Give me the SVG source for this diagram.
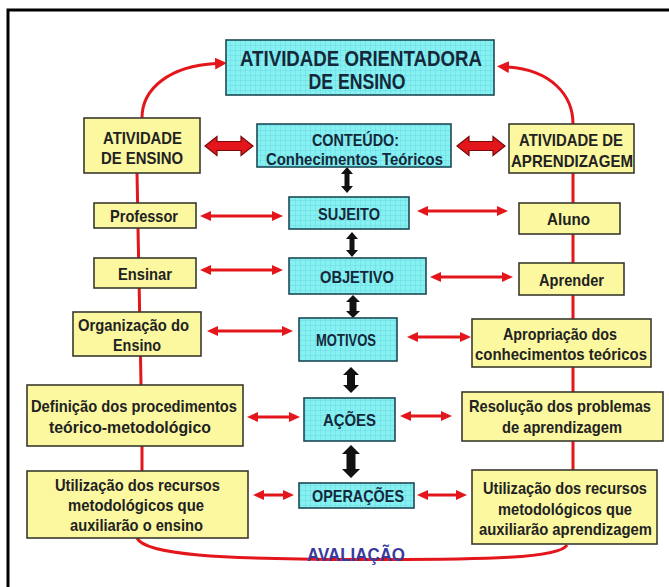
<svg xmlns="http://www.w3.org/2000/svg" width="669" height="587" viewBox="0 0 669 587">
  <defs>
    <!-- fine grid used inside the cyan boxes -->
    <pattern id="grid" width="5" height="5" patternUnits="userSpaceOnUse">
      <rect width="5" height="5" fill="#86f1f1"/>
      <path d="M5,0 L0,0 0,5" fill="none" stroke="#5cc6dc" stroke-width="0.6"/>
    </pattern>
    <marker id="head" viewBox="0 0 11 10" refX="1" refY="5" markerWidth="11" markerHeight="10" markerUnits="userSpaceOnUse" orient="auto-start-reverse">
      <path d="M0,0 L11,5 L0,10 z" fill="#e3161c"/>
    </marker>
    <marker id="headBig" viewBox="0 0 12 12" refX="1" refY="6" markerWidth="12" markerHeight="12" markerUnits="userSpaceOnUse" orient="auto">
      <path d="M0,0 L12,6 L0,12 z" fill="#e3161c"/>
    </marker>
  </defs>
  <style>
    .frame { fill: none; stroke: #000; stroke-width: 3; }
    .yel { fill: #fbf8a0; stroke: #3a3a2e; stroke-width: 1.6; }
    .cya { fill: url(#grid); stroke: #1d4a55; stroke-width: 1.6; }
    text { font-family: "Liberation Sans", Arial, sans-serif; font-weight: bold; text-anchor: middle; }
    .t { font-size: 17px; fill: #222; }
    .c { font-size: 16.5px; fill: #14283a; }
    .title { font-size: 22px; fill: #14283a; }
    .eval { font-size: 19px; fill: #3a3a9e; }
    .red { fill: none; stroke: #e3161c; stroke-width: 3; }
    .thin { fill: none; stroke: #e3161c; stroke-width: 3; marker-start: url(#head); marker-end: url(#head); }
    .blk { fill: #111; }
    .block { fill: #e3161c; stroke: #7a0a0a; stroke-width: 1.2; }
  </style>

  <!-- outer frame (left and top edges) -->
  <path class="frame" d="M8,587 L8,10 L669,10"/>

  <!-- connectors -->
  <g id="connectors">
    <!-- left spine, segments between boxes -->
    <path class="red" d="M137,173 L137.6,203"/>
    <path class="red" d="M138,228 L138.6,258"/>
    <path class="red" d="M139.2,288 L139.6,312"/>
    <path class="red" d="M140.5,356 L141,385"/>
    <path class="red" d="M142,446 L142,471"/>
    <!-- right spine, segments between boxes -->
    <path class="red" d="M573,173 L573,203"/>
    <path class="red" d="M573,234 L573,263"/>
    <path class="red" d="M573,295 L573,319"/>
    <path class="red" d="M573,367 L573,392"/>
    <path class="red" d="M573,441 L573,470"/>
    <!-- curves up to the title -->
    <path class="red" d="M142,118 C142,88 170,66 216,63.5" marker-end="url(#headBig)"/>
    <path class="red" d="M573,124 C573,95 551,70 508,67" marker-end="url(#headBig)"/>
    <!-- evaluation curve -->
    <path class="red" d="M137,538 C145,555 220,559 355,559.5 C490,560 560,558 567,545"/>
    <!-- small mark on the left spine -->
    <path d="M134,386 L134,393 Q133.5,396 131,395" fill="none" stroke="#111" stroke-width="1.2"/>

    <!-- fat block arrows next to the content box -->
    <polygon class="block" points="205,146 217,136.5 217,141.5 241,141.5 241,136.5 253,146 241,155.5 241,150.5 217,150.5 217,155.5"/>
    <polygon class="block" points="457,146 469,136.5 469,141.5 493,141.5 493,136.5 505,146 493,155.5 493,150.5 469,150.5 469,155.5"/>

    <!-- thin red double arrows -->
    <line class="thin" x1="210" y1="216" x2="273" y2="216"/>
    <line class="thin" x1="427" y1="211" x2="498" y2="211"/>
    <line class="thin" x1="210" y1="270" x2="273" y2="270"/>
    <line class="thin" x1="440" y1="277" x2="503" y2="277"/>
    <line class="thin" x1="217" y1="331" x2="283" y2="331"/>
    <line class="thin" x1="417" y1="337" x2="461" y2="337"/>
    <line class="thin" x1="257" y1="417" x2="290" y2="417"/>
    <line class="thin" x1="410" y1="416" x2="442" y2="416"/>
    <line class="thin" x1="263" y1="495" x2="284" y2="495"/>
    <line class="thin" x1="427" y1="495" x2="457" y2="495"/>

    <!-- black vertical double arrows along the centre column -->
    <polygon class="blk" points="347,167 353,174 349.5,174 349.5,186 353,186 347,193 341,186 344.5,186 344.5,174 341,174"/>
    <polygon class="blk" points="352,232 358,239 354.5,239 354.5,250 358,250 352,257 346,250 349.5,250 349.5,239 346,239"/>
    <polygon class="blk" points="353,295 360,302 356.5,302 356.5,311 360,311 353,318 346,311 349.5,311 349.5,302 346,302"/>
    <polygon class="blk" points="351,367 359,375 355,375 355,385 359,385 351,393 343,385 347,385 347,375 343,375"/>
    <polygon class="blk" points="351,445 360,454 355.5,454 355.5,469 360,469 351,478 342,469 346.5,469 346.5,454 342,454"/>
  </g>

  <!-- title -->
  <g id="atividade-orientadora">
    <rect class="cya" x="226" y="40" width="268" height="55"/>
    <text class="title" x="361" y="65.5" textLength="242" lengthAdjust="spacingAndGlyphs">ATIVIDADE ORIENTADORA</text>
    <text class="title" x="357" y="89" textLength="97" lengthAdjust="spacingAndGlyphs">DE ENSINO</text>
  </g>

  <!-- left column -->
  <g id="atividade-ensino">
    <rect class="yel" x="84" y="118" width="116" height="55"/>
    <text class="t" x="142.5" y="144" textLength="79" lengthAdjust="spacingAndGlyphs">ATIVIDADE</text>
    <text class="t" x="142" y="164" textLength="82" lengthAdjust="spacingAndGlyphs">DE ENSINO</text>
  </g>
  <g id="professor">
    <rect class="yel" x="94" y="203" width="102" height="25"/>
    <text class="t" x="144" y="222" textLength="68" lengthAdjust="spacingAndGlyphs">Professor</text>
  </g>
  <g id="ensinar">
    <rect class="yel" x="94" y="258" width="102" height="30"/>
    <text class="t" x="145" y="279.5" textLength="54" lengthAdjust="spacingAndGlyphs">Ensinar</text>
  </g>
  <g id="organizacao">
    <rect class="yel" x="73" y="312" width="128" height="44"/>
    <text class="t" x="133.5" y="331" textLength="111" lengthAdjust="spacingAndGlyphs">Organização do</text>
    <text class="t" x="137" y="350.5" textLength="48" lengthAdjust="spacingAndGlyphs">Ensino</text>
  </g>
  <g id="definicao">
    <rect class="yel" x="27" y="385" width="216" height="61"/>
    <text class="t" x="134" y="412" textLength="206" lengthAdjust="spacingAndGlyphs">Definição dos procedimentos</text>
    <text class="t" x="130" y="432.5" textLength="162" lengthAdjust="spacingAndGlyphs">teórico-metodológico</text>
  </g>
  <g id="utilizacao-ensino">
    <rect class="yel" x="27" y="471" width="221" height="67"/>
    <text class="t" x="137.5" y="491" textLength="165" lengthAdjust="spacingAndGlyphs">Utilização dos recursos</text>
    <text class="t" x="136" y="511" textLength="136" lengthAdjust="spacingAndGlyphs">metodológicos que</text>
    <text class="t" x="136.5" y="531" textLength="133" lengthAdjust="spacingAndGlyphs">auxiliarão o ensino</text>
  </g>

  <!-- centre column -->
  <g id="conteudo">
    <rect class="cya" x="257" y="124" width="194" height="43"/>
    <text class="c" x="355.5" y="146" textLength="87" lengthAdjust="spacingAndGlyphs">CONTEÚDO:</text>
    <text class="c" x="354.5" y="165" textLength="177" lengthAdjust="spacingAndGlyphs">Conhecimentos Teóricos</text>
  </g>
  <g id="sujeito">
    <rect class="cya" x="289" y="197" width="120" height="32"/>
    <text class="c" x="349" y="219.5" textLength="62" lengthAdjust="spacingAndGlyphs">SUJEITO</text>
  </g>
  <g id="objetivo">
    <rect class="cya" x="289" y="258" width="137" height="36"/>
    <text class="c" x="357" y="282.5" textLength="74" lengthAdjust="spacingAndGlyphs">OBJETIVO</text>
  </g>
  <g id="motivos">
    <rect class="cya" x="299" y="318" width="98" height="43"/>
    <text class="c" x="346" y="346" textLength="60" lengthAdjust="spacingAndGlyphs">MOTIVOS</text>
  </g>
  <g id="acoes">
    <rect class="cya" x="304" y="398" width="91" height="43"/>
    <text class="c" x="349.5" y="425.5" textLength="53" lengthAdjust="spacingAndGlyphs">AÇÕES</text>
  </g>
  <g id="operacoes">
    <rect class="cya" x="299" y="483" width="115" height="25"/>
    <text class="c" x="358" y="501.5" textLength="92" lengthAdjust="spacingAndGlyphs">OPERAÇÕES</text>
  </g>

  <!-- right column -->
  <g id="atividade-aprendizagem">
    <rect class="yel" x="509" y="124" width="125" height="49"/>
    <text class="t" x="571" y="146" textLength="104" lengthAdjust="spacingAndGlyphs">ATIVIDADE DE</text>
    <text class="t" x="572" y="167" textLength="122" lengthAdjust="spacingAndGlyphs">APRENDIZAGEM</text>
  </g>
  <g id="aluno">
    <rect class="yel" x="519" y="203" width="101" height="31"/>
    <text class="t" x="568.5" y="225" textLength="43" lengthAdjust="spacingAndGlyphs">Aluno</text>
  </g>
  <g id="aprender">
    <rect class="yel" x="519" y="263" width="105" height="32"/>
    <text class="t" x="571.5" y="285.5" textLength="65" lengthAdjust="spacingAndGlyphs">Aprender</text>
  </g>
  <g id="apropriacao">
    <rect class="yel" x="472" y="319" width="179" height="48"/>
    <text class="t" x="560" y="340" textLength="114" lengthAdjust="spacingAndGlyphs">Apropriação dos</text>
    <text class="t" x="561" y="360" textLength="172" lengthAdjust="spacingAndGlyphs">conhecimentos teóricos</text>
  </g>
  <g id="resolucao">
    <rect class="yel" x="462" y="392" width="201" height="49"/>
    <text class="t" x="560" y="412" textLength="182" lengthAdjust="spacingAndGlyphs">Resolução dos problemas</text>
    <text class="t" x="562" y="432.5" textLength="120" lengthAdjust="spacingAndGlyphs">de aprendizagem</text>
  </g>
  <g id="utilizacao-aprendizagem">
    <rect class="yel" x="472" y="470" width="185" height="74"/>
    <text class="t" x="565" y="494" textLength="164" lengthAdjust="spacingAndGlyphs">Utilização dos recursos</text>
    <text class="t" x="565" y="514.5" textLength="134" lengthAdjust="spacingAndGlyphs">metodológicos que</text>
    <text class="t" x="565.5" y="535" textLength="173" lengthAdjust="spacingAndGlyphs">auxiliarão aprendizagem</text>
  </g>

  <!-- evaluation label over the bottom curve -->
  <g id="avaliacao">
    <text class="eval" x="356" y="561" textLength="98" lengthAdjust="spacingAndGlyphs">AVALIAÇÃO</text>
  </g>
</svg>
